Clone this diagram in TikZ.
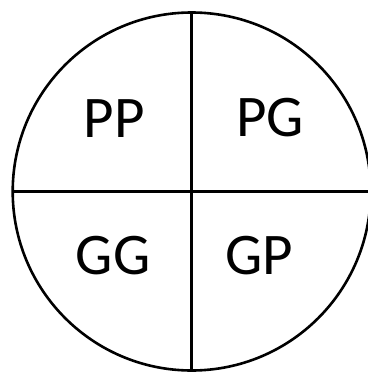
\documentclass[tikz,border=0pt]{standalone}
\usepackage{fontspec}
\setmainfont{Carlito}
\tikzset{
  lbl/.style={font=\fontsize{59}{60}\selectfont, inner sep=0pt, text=black},
  ln/.style={line width=2.6pt, draw=black}
}
\begin{document}
\begin{tikzpicture}[x=1pt,y=-1pt]
\useasboundingbox (0,0) rectangle (367,372);
\coordinate (c) at (191.7,191.5);
\draw[ln] (c) circle[radius=179];
\coordinate (t) at (191.7,12.5);
\coordinate (b) at (191.7,372);
\coordinate (l) at (12.7,191.5);
\coordinate (r) at (370.7,191.5);
\draw[ln] (t) -- (b);
\draw[ln] (l) -- (r);
\node[lbl] (pp) at (114,119) {PP};
\node[lbl] (pg) at (270,118) {PG};
\node[lbl] (gg) at (113,256) {GG};
\node[lbl] (gp) at (259,256) {GP};
\end{tikzpicture}
\end{document}
